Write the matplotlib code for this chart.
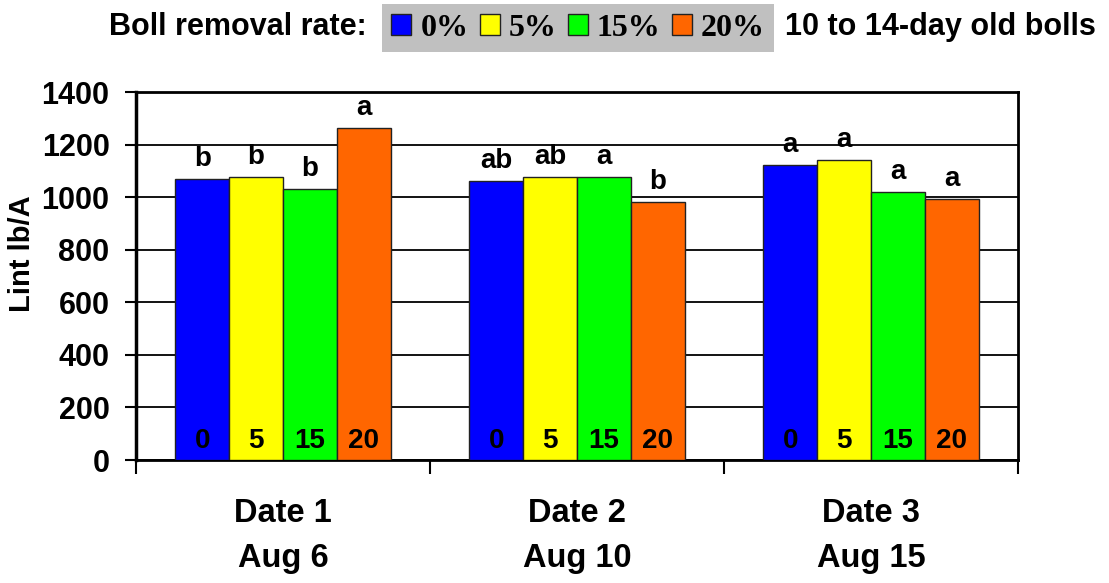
import numpy as np
import matplotlib
matplotlib.use('Agg')
import matplotlib.pyplot as plt
from matplotlib.patches import Patch

# lint yield per removal rate at each removal date
dates = ['Date 1\nAug 6', 'Date 2\nAug 10', 'Date 3\nAug 15']
rates = ['0%', '5%', '15%', '20%']
rate_tags = ['0', '5', '15', '20']
lint_0 = [1068, 1063, 1121]
lint_5 = [1078, 1078, 1142]
lint_15 = [1031, 1078, 1019]
lint_20 = [1264, 981, 993]
letters_0 = ['b', 'ab', 'a']
letters_5 = ['b', 'ab', 'a']
letters_15 = ['b', 'a', 'a']
letters_20 = ['a', 'b', 'a']

colors = ['#0000ff', '#ffff00', '#00ff00', '#ff6600']
series = [lint_0, lint_5, lint_15, lint_20]
letters = [letters_0, letters_5, letters_15, letters_20]

sans = 'Liberation Sans'
serif = 'Liberation Serif'

fig = plt.figure(figsize=(11.09, 5.83), dpi=100)
ax = fig.add_axes([136 / 1109, 1 - 460 / 583, 882 / 1109, 368 / 583])

x = np.arange(len(dates))
w = 0.183
for i, (vals, col) in enumerate(zip(series, colors)):
    pos = x + (i - 1.5) * w
    bars = ax.bar(pos, vals, width=w, color=col, edgecolor='#222222',
                  linewidth=1.0, zorder=3)
    for p, v, lt in zip(pos, vals, letters[i]):
        ax.annotate(lt, (p, v), xytext=(0, 5), textcoords='offset points',
                    ha='center', va='bottom', fontsize=20, fontweight='bold',
                    family=sans, zorder=4)
        ax.annotate(rate_tags[i], (p, 0), xytext=(0, 4), textcoords='offset points',
                    ha='center', va='bottom', fontsize=20, fontweight='bold',
                    family=sans, zorder=4)

ax.set_ylim(0, 1400)
ax.set_xlim(-0.5, 2.5)
ax.set_yticks(np.arange(0, 1401, 200))
ax.yaxis.grid(True, color='black', linewidth=1.3, zorder=0)
ax.set_axisbelow(True)

ax.set_xticks(x)
ax.set_xticklabels(dates, fontsize=23.5, fontweight='bold', family=sans,
                   linespacing=1.6)
ax.set_xticks([-0.5, 0.5, 1.5, 2.5], minor=True)
ax.tick_params(axis='x', which='major', length=0, pad=27)
ax.tick_params(axis='x', which='minor', length=10, width=1.5, direction='out')
ax.tick_params(axis='y', length=8, width=1.5, direction='out', pad=11)
for lab in ax.get_yticklabels():
    lab.set_fontsize(22)
    lab.set_fontweight('bold')
    lab.set_family(sans)

for side in ['top', 'right', 'bottom']:
    ax.spines[side].set_linewidth(2.0)
ax.spines['left'].set_linewidth(2.5)

fig.text(22 / 1109, 1 - 254 / 583, 'Lint lb/A', rotation=90, ha='center',
         va='center', fontsize=21, fontweight='bold', family=sans)

# header line with the legend in between
fig.text(367 / 1109, 1 - 27 / 583, 'Boll removal rate:', ha='right', va='center',
         fontsize=22, fontweight='bold', family=sans)
fig.text(785 / 1109, 1 - 27 / 583, '10 to 14-day old bolls', ha='left', va='center',
         fontsize=22, fontweight='bold', family=sans)

handles = [Patch(facecolor=c, edgecolor='#222222', linewidth=1.0) for c in colors]
leg = fig.legend(handles, rates, loc='center', bbox_to_anchor=(578 / 1109, 1 - 28 / 583),
                 ncol=4, frameon=True, fancybox=False, framealpha=1,
                 facecolor='#c0c0c0', edgecolor='none', handlelength=0.63,
                 handleheight=0.63, handletextpad=0.28, columnspacing=0.35,
                 borderpad=0.3, borderaxespad=0,
                 prop={'family': serif, 'weight': 'bold', 'size': 23})

fig.savefig('out.png', dpi=100)
